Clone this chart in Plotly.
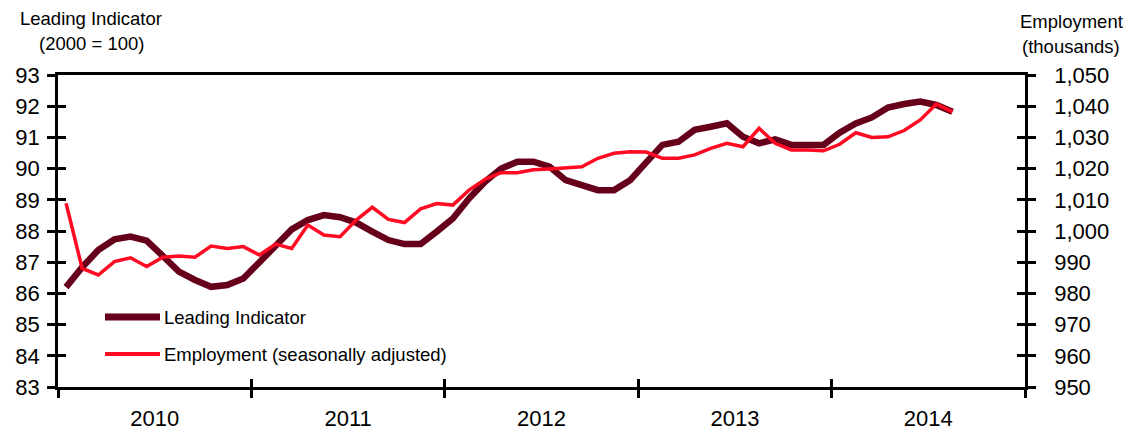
import plotly.graph_objects as go

# Monthly data, Jan 2010 - Aug 2014
months = list(range(56))
leading = [86.2, 86.84, 87.39, 87.73, 87.82, 87.69, 87.2, 86.7, 86.43, 86.21, 86.27, 86.48,
           87.0, 87.5, 88.05, 88.35, 88.51, 88.44, 88.27, 87.98, 87.71, 87.58, 87.58, 87.98,
           88.4, 89.04, 89.58, 90.0, 90.22, 90.22, 90.06, 89.63, 89.47, 89.31, 89.31, 89.63,
           90.2, 90.76, 90.86, 91.24, 91.34, 91.45, 91.02, 90.81, 90.94, 90.76, 90.76, 90.76,
           91.15, 91.45, 91.64, 91.96, 92.07, 92.15, 92.04, 91.82]
employment = [1008.9, 988.0, 985.9, 990.2, 991.4, 988.6, 991.6, 992.0, 991.6, 995.2, 994.4, 995.0,
              992.3, 995.8, 994.4, 1001.9, 998.7, 998.2, 1003.5, 1007.6, 1003.7, 1002.7, 1007.1, 1008.8,
              1008.3, 1013.1, 1016.6, 1018.7, 1018.7, 1019.6, 1019.9, 1020.2, 1020.6, 1023.3, 1024.9, 1025.4,
              1025.3, 1023.3, 1023.3, 1024.4, 1026.5, 1028.1, 1027.0, 1032.9, 1028.1, 1026.0, 1026.0, 1025.7,
              1027.8, 1031.5, 1030.0, 1030.2, 1032.2, 1035.6, 1040.7, 1038.2]
years = ["2010", "2011", "2012", "2013", "2014"]
year_centers = [5.5, 17.5, 29.5, 41.5, 53.5]
year_bounds = [-0.5, 11.5, 23.5, 35.5, 47.5, 59.5]
left_ticks = list(range(83, 94))
right_ticks = list(range(950, 1051, 10))

DARK = "#66001A"
RED = "#FF0A22"
FONT = "Liberation Sans, Arial, sans-serif"
LW = 2.5

fig = go.Figure()
fig.add_trace(go.Scatter(x=months, y=leading, mode="lines", name="Leading Indicator",
                         line=dict(color=DARK, width=6.5), showlegend=False))
fig.add_trace(go.Scatter(x=months, y=employment, mode="lines", name="Employment (seasonally adjusted)",
                         line=dict(color=RED, width=3.5), yaxis="y2", showlegend=False))
# invisible helpers so overlay axes (inner tick halves) are drawn
fig.add_trace(go.Scatter(x=[None], y=[None], xaxis="x2", yaxis="y3", showlegend=False, hoverinfo="skip"))
fig.add_trace(go.Scatter(x=[None], y=[None], xaxis="x2", yaxis="y4", showlegend=False, hoverinfo="skip"))

tickfont = dict(family=FONT, size=22, color="black")
# page body has an 8px margin, so the figure is sized/placed to compensate
fig.update_layout(
    width=1134, height=422,
    margin=dict(l=50, r=117, t=67, b=43, autoexpand=False),
    paper_bgcolor="white", plot_bgcolor="white",
    font=dict(family=FONT, color="black"),
    xaxis=dict(range=[-0.5, 59.5], tickvals=year_centers, ticktext=years, ticks="",
               showline=True, linecolor="black", linewidth=LW, mirror=True, automargin=False,
               showgrid=False, zeroline=False, tickfont=tickfont, ticklabelstandoff=10,
               minor=dict(tickvals=year_bounds, ticks="outside", ticklen=8, tickwidth=LW,
                          tickcolor="black", showgrid=False)),
    xaxis2=dict(range=[-0.5, 59.5], overlaying="x", anchor="y", side="bottom", automargin=False,
                tickvals=year_bounds, ticks="inside", ticklen=8, tickwidth=LW, tickcolor="black",
                showticklabels=False, showline=False, showgrid=False, zeroline=False),
    yaxis=dict(range=[83, 93], tickvals=left_ticks, ticks="outside", ticklen=8, tickwidth=LW,
               tickcolor="black", showline=True, linecolor="black", linewidth=LW, automargin=False,
               showgrid=False, zeroline=False, tickfont=tickfont, ticklabelstandoff=3),
    yaxis2=dict(range=[950, 1050], tickvals=right_ticks, tickformat=",", overlaying="y",
                side="right", ticks="outside", ticklen=8, tickwidth=LW, tickcolor="black",
                showline=True, linecolor="black", linewidth=LW, showgrid=False, zeroline=False,
                automargin=False, tickfont=tickfont, ticklabelstandoff=14),
    yaxis3=dict(range=[83, 93], tickvals=left_ticks, overlaying="y", side="left", anchor="x",
                ticks="inside", ticklen=8, tickwidth=LW, tickcolor="black", automargin=False,
                showticklabels=False, showline=False, showgrid=False, zeroline=False),
    yaxis4=dict(range=[950, 1050], tickvals=right_ticks, overlaying="y", side="right", anchor="x",
                ticks="inside", ticklen=8, tickwidth=LW, tickcolor="black", automargin=False,
                showticklabels=False, showline=False, showgrid=False, zeroline=False),
)

txt = dict(family=FONT, size=18.5, color="black")
def ann(text, xpx, ypx):
    fig.add_annotation(text=text, xref="paper", yref="paper",
                       x=(xpx - 58) / 967, y=(387 - ypx) / 312,
                       xanchor="center", yanchor="middle", showarrow=False, font=txt)

ann("Leading Indicator", 91, 19)
ann("(2000 = 100)", 91, 44)
ann("Employment", 1071, 22)
ann("(thousands)", 1071, 46)

# legend drawn as swatches + labels
for color, width, label, ypx in [(DARK, 7, "Leading Indicator", 317),
                                 (RED, 4, "Employment (seasonally adjusted)", 354)]:
    yp = (387 - ypx) / 312
    fig.add_shape(type="line", xref="paper", yref="paper",
                  x0=(105 - 58) / 967, x1=(160 - 58) / 967, y0=yp, y1=yp,
                  line=dict(color=color, width=width))
    fig.add_annotation(text=label, xref="paper", yref="paper", x=(162 - 58) / 967, y=yp,
                       xanchor="left", yanchor="middle", showarrow=False, font=txt)

fig.write_html("out.html")
